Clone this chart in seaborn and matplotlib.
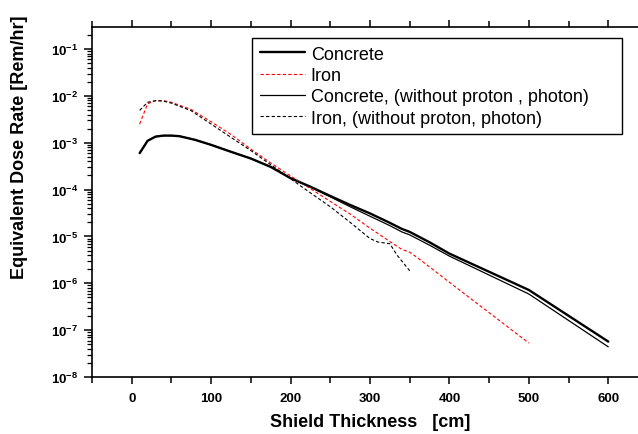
import matplotlib
matplotlib.use("Agg")
import matplotlib.pyplot as plt
import seaborn as sns
import pandas as pd
from matplotlib.ticker import MultipleLocator, LogLocator, NullFormatter

# ---- data ----
x_concrete = [10, 20, 30, 40, 50, 60, 80, 100, 125, 150, 175, 200, 225, 250, 275, 300, 325, 340, 350, 375, 400, 500, 600]
concrete = [6.0e-4, 1.1e-3, 1.35e-3, 1.42e-3, 1.42e-3, 1.38e-3, 1.15e-3, 9.0e-4, 6.4e-4, 4.6e-4, 3.05e-4, 1.75e-4,
            1.15e-4, 7.3e-5, 4.7e-5, 3.1e-5, 1.95e-5, 1.45e-5, 1.25e-5, 7.5e-6, 4.3e-6, 7.2e-7, 5.7e-8]

x_concrete_np = [10, 20, 30, 40, 50, 60, 80, 100, 125, 150, 175, 200, 225, 250, 275, 300, 325, 340, 350, 375, 400, 500, 600]
concrete_np = [6.0e-4, 1.1e-3, 1.35e-3, 1.42e-3, 1.42e-3, 1.38e-3, 1.15e-3, 9.0e-4, 6.4e-4, 4.6e-4, 3.05e-4, 1.75e-4,
               1.13e-4, 7.0e-5, 4.3e-5, 2.7e-5, 1.7e-5, 1.25e-5, 1.08e-5, 6.5e-6, 3.8e-6, 5.9e-7, 4.4e-8]

x_iron = [10, 20, 30, 40, 50, 75, 100, 125, 150, 175, 200, 225, 250, 275, 300, 325, 340, 350, 360, 400, 500]
iron = [2.5e-3, 6.8e-3, 7.9e-3, 7.9e-3, 7.3e-3, 5.1e-3, 2.8e-3, 1.5e-3, 7.3e-4, 3.7e-4, 1.95e-4, 1.05e-4,
        5.6e-5, 3.0e-5, 1.5e-5, 7.8e-6, 5.3e-6, 4.6e-6, 3.5e-6, 1.05e-6, 5.3e-8]

x_iron_np = [10, 20, 30, 40, 50, 75, 100, 125, 150, 175, 200, 225, 250, 275, 300, 310, 325, 334, 350]
iron_np = [4.9e-3, 7.3e-3, 7.9e-3, 7.7e-3, 7.0e-3, 4.8e-3, 2.5e-3, 1.3e-3, 6.8e-4, 3.4e-4, 1.7e-4, 8.5e-5,
           4.3e-5, 2.0e-5, 9.0e-6, 7.6e-6, 7.0e-6, 4.0e-6, 1.85e-6]

labels = ["Concrete", "Iron", "Concrete, (without proton , photon)", "Iron, (without proton, photon)"]

x_ticks = [0, 100, 200, 300, 400, 500, 600]
x_ticklabels = ["0", "100", "200", "300", "400", "500", "600"]
y_ticks = [1e-8, 1e-7, 1e-6, 1e-5, 1e-4, 1e-3, 1e-2, 1e-1]
y_ticklabels = ["10$^{-8}$", "10$^{-7}$", "10$^{-6}$", "10$^{-5}$", "10$^{-4}$", "10$^{-3}$", "10$^{-2}$", "10$^{-1}$"]

x_label = "Shield Thickness   [cm]"
y_label = "Equivalent Dose Rate [Rem/hr]"

# ---- style ----
sns.set_theme(style="ticks")
plt.rcParams["font.family"] = ["Liberation Sans", "DejaVu Sans"]
plt.rcParams["mathtext.default"] = "regular"
for k in ["text.color", "axes.labelcolor", "xtick.color", "ytick.color", "axes.edgecolor"]:
    plt.rcParams[k] = "black"

fig = plt.figure(figsize=(6.38, 4.35), dpi=100)
ax = fig.add_axes([92 / 638, 57 / 435, 556 / 638, 350 / 435])

df_c = pd.DataFrame({"x": x_concrete, "y": concrete})
df_i = pd.DataFrame({"x": x_iron, "y": iron})
df_cn = pd.DataFrame({"x": x_concrete_np, "y": concrete_np})
df_in = pd.DataFrame({"x": x_iron_np, "y": iron_np})

sns.lineplot(data=df_c, x="x", y="y", ax=ax, color="black", lw=1.7, label=labels[0])
sns.lineplot(data=df_i, x="x", y="y", ax=ax, color="#ff0000", lw=0.8, label=labels[1])
sns.lineplot(data=df_cn, x="x", y="y", ax=ax, color="black", lw=0.9, label=labels[2])
sns.lineplot(data=df_in, x="x", y="y", ax=ax, color="black", lw=0.8, label=labels[3])
ax.lines[1].set_dashes([3, 2])
ax.lines[3].set_dashes([3, 2])

ax.set_yscale("log")
ax.set_xlim(-50, 650)
ax.set_ylim(1e-8, 0.295)

ax.set_xticks(x_ticks)
ax.set_xticklabels(x_ticklabels, fontweight="bold", fontsize=9.5)
ax.xaxis.set_minor_locator(MultipleLocator(50))
ax.set_yticks(y_ticks)
ax.set_yticklabels(y_ticklabels, fontweight="bold", fontsize=9.5)
ax.yaxis.set_minor_locator(LogLocator(base=10, subs=range(2, 10), numticks=20))
ax.yaxis.set_minor_formatter(NullFormatter())

for s in ["left", "bottom", "top"]:
    ax.spines[s].set_linewidth(1.2)
    ax.spines[s].set_color("black")
ax.spines["right"].set_visible(False)

ax.tick_params(axis="x", which="major", direction="out", length=5, width=1.1, pad=6, top=True, color="black")
ax.tick_params(axis="x", which="minor", direction="out", length=4, width=1.1, top=True, color="black")
ax.tick_params(axis="y", which="major", direction="out", length=6, width=1.1, pad=4, right=False, color="black")
ax.tick_params(axis="y", which="minor", direction="out", length=3.5, width=0.9, right=False, color="black")
ax.tick_params(axis="x", which="both", labeltop=False)

ax.set_xlabel(x_label, fontweight="bold", fontsize=13)
ax.set_ylabel(y_label, fontweight="bold", fontsize=13)
ax.xaxis.set_label_coords(0.5, -0.103)
ax.yaxis.set_label_coords(-0.115, 0.6586)

leg = ax.legend(loc="upper left", bbox_to_anchor=(0.2878, 0.5, 0.6655, 0.4686), mode="expand",
                borderaxespad=0, fontsize=13, frameon=True, fancybox=False, shadow=False,
                handlelength=2.5, handletextpad=0.33, labelspacing=0.24, borderpad=0.42)
leg.get_frame().set_edgecolor("black")
leg.get_frame().set_linewidth(1.0)
leg.get_frame().set_alpha(1)

fig.savefig("out.png", dpi=100)
